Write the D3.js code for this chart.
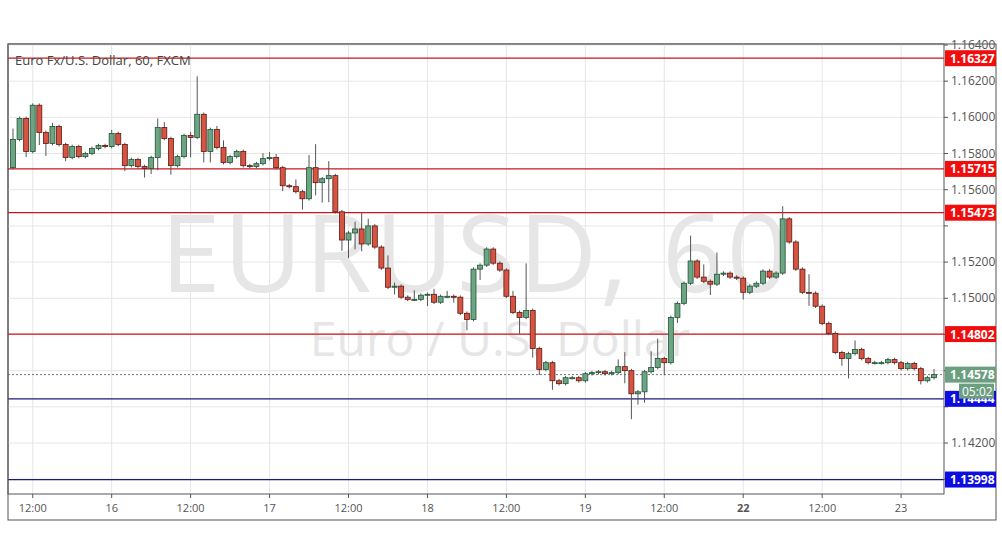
<!DOCTYPE html>
<html><head><meta charset="utf-8">
<script src="https://cdn.jsdelivr.net/npm/d3@7"></script>
<style>body{margin:0;background:#fff;font-family:"Open Sans",Arial,sans-serif}</style>
</head><body>
<script>
var firstOpen = 1.15722;
var closes = [1.15878,1.15994,1.15811,1.16067,1.15917,1.15856,1.15950,1.15850,1.15778,1.15839,
1.15783,1.15800,1.15828,1.15844,1.15839,1.15911,1.15850,1.15733,1.15767,1.15728,
1.15717,1.15778,1.15944,1.15883,1.15733,1.15783,1.15900,1.15889,1.16017,1.15811,
1.15933,1.15833,1.15750,1.15783,1.15811,1.15733,1.15728,1.15744,1.15772,1.15778,
1.15722,1.15622,1.15617,1.15589,1.15550,1.15722,1.15639,1.15661,1.15678,1.15478,
1.15322,1.15361,1.15383,1.15300,1.15400,1.15283,1.15167,1.15061,1.15067,1.15006,
1.14994,1.14994,1.15017,1.15022,1.14978,1.15011,1.15011,1.15006,1.14917,1.14883,
1.15161,1.15183,1.15272,1.15194,1.15156,1.15011,1.14922,1.14894,1.14933,1.14722,
1.14606,1.14644,1.14544,1.14528,1.14561,1.14561,1.14544,1.14583,1.14589,1.14594,
1.14583,1.14589,1.14622,1.14600,1.14472,1.14483,1.14594,1.14617,1.14667,1.14644,
1.14894,1.14972,1.15083,1.15206,1.15117,1.15094,1.15078,1.15133,1.15139,1.15117,
1.15111,1.15033,1.15067,1.15083,1.15150,1.15117,1.15139,1.15439,1.15311,1.15161,
1.15033,1.15028,1.14956,1.14861,1.14806,1.14700,1.14667,1.14694,1.14717,1.14667,
1.14644,1.14644,1.14644,1.14661,1.14644,1.14611,1.14639,1.14611,1.14544,1.14561,1.14578];
// wick lengths in pips above body top / below body bottom
var upWick = [6,1,1,1,1,1,2,1,1,1, 1,1,1,1,1,2,1,1,1,1, 1,1,5,3,1,1,1,2,21,1,
1,2,4,1,1,1,1,1,3,3, 2,1,1,4,1,7,13,1,8,1, 1,1,4,9,4,1,1,7,2,1, 1,5,1,1,3,1,3,1,1,1,
1,1,1,1,1,1,3,1,26,1, 1,1,1,1,1,1,1,1,1,1, 1,1,4,8,1,1,1,9,11,1, 1,1,1,14,1,7,1,12,1,1,
1,1,1,1,1,1,1,7,1,1, 1,10,1,1,1,1,1,1,5,1, 1,1,1,1,1,1,1,1,1,1,3];
var downWick = [1,1,3,1,7,7,1,1,2,1, 1,1,1,1,1,1,1,3,1,1, 5,3,7,1,5,1,1,11,1,6,
6,1,1,1,1,1,1,1,1,1, 1,3,1,1,6,1,7,11,13,1, 6,10,9,4,1,1,1,1,4,1, 1,1,1,6,1,1,1,3,1,6,
1,6,1,1,1,1,1,9,1,5, 3,1,5,1,1,1,1,1,1,1, 1,1,1,7,14,6,6,1,1,7, 1,3,1,1,1,1,6,1,1,1,
1,4,1,1,1,1,1,1,1,1, 1,7,1,1,1,1,4,11,1,1, 1,1,1,1,1,1,1,1,2,1,1];
var xTickIdx = [3,15,27,39,51,63,75,87,99,111,123,135];
var xTickLbl = ["12:00","16","12:00","17","12:00","18","12:00","19","12:00","22","12:00","23"];
var priceTicks = [1.164,1.162,1.160,1.158,1.156,1.154,1.152,1.150,1.148,1.146,1.144,1.142,1.140];
var redLevels = [1.16327,1.15715,1.15473,1.14802];
var blueLevels = [1.14444,1.13998];
var lastPrice = 1.14578;

var W = 1002, H = 557;
var pl = 8, pr = 944, pt = 44, pb = 494;
var svg = d3.select("body").append("svg").attr("width", W).attr("height", H);

var x = d3.scaleLinear().domain([0, 140]).range([13, 934]);
var y = d3.scaleLinear().domain([1.142, 1.164]).range([443, 45]);

var data = closes.map(function(c, i) {
    var o = i === 0 ? firstOpen : closes[i - 1];
    return {o: o, c: c, h: Math.max(o, c) + upWick[i] * 0.0001, l: Math.min(o, c) - downWick[i] * 0.0001};
});

// frame + grid
svg.append("rect").attr("x", pl).attr("y", pt).attr("width", 988).attr("height", 476)
    .attr("fill", "none").attr("stroke", "#555");
var grid = svg.append("g");
grid.selectAll(".gy").data(priceTicks.filter(function(p){ return y(p) > pt && y(p) < pb; })).enter().append("line")
    .attr("x1", pl).attr("x2", pr).attr("y1", d => y(d)).attr("y2", d => y(d)).attr("stroke", "#e6e6e6");
grid.selectAll(".gx").data(xTickIdx).enter().append("line")
    .attr("x1", d => x(d)).attr("x2", d => x(d)).attr("y1", pt).attr("y2", pb).attr("stroke", "#e6e6e6");

// watermark
svg.append("text").attr("x", 476).attr("y", 292).attr("text-anchor", "middle")
    .attr("font-size", 108).attr("letter-spacing", 3).attr("fill", "#e6e6e6").attr("font-family", "Open Sans, sans-serif").text("EURUSD, 60");
svg.append("text").attr("x", 500).attr("y", 356).attr("text-anchor", "middle")
    .attr("font-size", 48).attr("fill", "#e6e6e6").attr("font-family", "Open Sans, sans-serif").text("Euro / U.S. Dollar");

// level lines
svg.selectAll(".rl").data(redLevels).enter().append("line")
    .attr("x1", pl).attr("x2", pr).attr("y1", d => y(d)).attr("y2", d => y(d)).attr("stroke", "#c8161d").attr("stroke-width", 1.2);
svg.selectAll(".bl").data(blueLevels).enter().append("line")
    .attr("x1", pl).attr("x2", pr).attr("y1", d => y(d)).attr("y2", d => y(d)).attr("stroke", "#1a1a7a").attr("stroke-width", 1.2);
svg.append("line").attr("x1", pl).attr("x2", pr).attr("y1", y(lastPrice)).attr("y2", y(lastPrice))
    .attr("stroke", "#777").attr("stroke-dasharray", "2,2");

// candles
var cg = svg.append("g");
cg.selectAll(".wick").data(data).enter().append("line")
    .attr("x1", (d, i) => x(i)).attr("x2", (d, i) => x(i))
    .attr("y1", d => y(d.h)).attr("y2", d => y(d.l)).attr("stroke", "#555");
cg.selectAll(".body").data(data).enter().append("rect")
    .attr("x", (d, i) => x(i) - 2.5).attr("width", 5)
    .attr("y", d => y(Math.max(d.o, d.c)))
    .attr("height", d => Math.max(1, Math.abs(y(d.o) - y(d.c))))
    .attr("fill", d => d.c >= d.o ? "#6ba583" : "#d75442")
    .attr("stroke", d => d.c >= d.o ? "#225437" : "#5b1a13").attr("stroke-width", 0.8);

// plot border
svg.append("rect").attr("x", pl).attr("y", pt).attr("width", pr - pl).attr("height", pb - pt)
    .attr("fill", "none").attr("stroke", "#555");

// right axis (labels hidden where a tag sits)
var tagPrices = redLevels.concat(blueLevels, [lastPrice]);
var ra = svg.append("g").attr("font-size", 12).attr("fill", "#555");
priceTicks.forEach(function(p) {
    if (y(p) < pt - 2 || y(p) > pb) return;
    ra.append("line").attr("x1", pr).attr("x2", pr + 4).attr("y1", y(p)).attr("y2", y(p)).attr("stroke", "#555");
    var clash = tagPrices.some(t => Math.abs(y(t) - y(p)) < 14) || (y(p) > y(lastPrice) && y(p) - y(lastPrice) < 30);
    if (!clash || p === 1.164) ra.append("text").attr("x", 951).attr("y", y(p) + 4).text(d3.format(".5f")(p));
});
function tag(p, fill, txt) {
    svg.append("rect").attr("x", pr + 1).attr("y", y(p) - 8).attr("width", 51).attr("height", 16).attr("fill", fill);
    svg.append("text").attr("x", 950).attr("y", y(p) + 4.5).attr("font-size", 12).attr("font-weight", "bold")
        .attr("fill", "#fff").text(txt);
}
redLevels.forEach(p => tag(p, "#f20d0d", d3.format(".5f")(p)));
blueLevels.forEach(p => tag(p, "#0d0de0", d3.format(".5f")(p)));
tag(lastPrice, "#6b9f80", d3.format(".5f")(lastPrice));
svg.append("rect").attr("x", 959).attr("y", y(lastPrice) + 9).attr("width", 35).attr("height", 15).attr("fill", "#6b9f80");
svg.append("text").attr("x", 962).attr("y", y(lastPrice) + 21).attr("font-size", 12).attr("fill", "#fff").text("05:02");

// bottom axis
var ba = svg.append("g").attr("font-size", 11).attr("fill", "#555");
xTickIdx.forEach(function(t, k) {
    ba.append("line").attr("x1", x(t)).attr("x2", x(t)).attr("y1", pb).attr("y2", pb + 4).attr("stroke", "#555");
    ba.append("text").attr("x", x(t)).attr("y", 512).attr("text-anchor", "middle")
        .attr("font-weight", xTickLbl[k] === "22" ? "bold" : "normal").text(xTickLbl[k]);
});

// title
svg.append("text").attr("x", 15).attr("y", 65).attr("font-size", 13).attr("fill", "#444").text("Euro Fx/U.S. Dollar, 60, FXCM");
</script>
</body></html>
